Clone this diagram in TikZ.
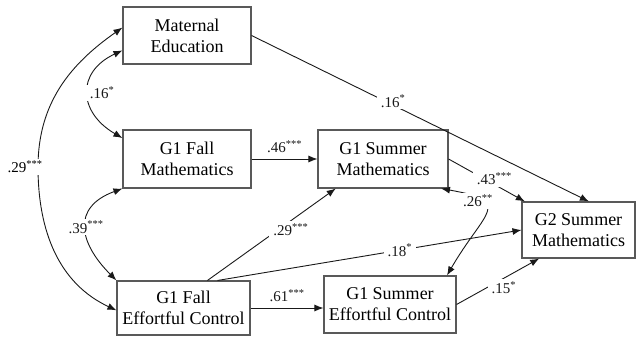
\documentclass[tikz,border=0pt]{standalone}
\usepackage{fontspec}
\setmainfont{Liberation Serif}
\usetikzlibrary{arrows.meta}

\tikzset{
	var/.style={draw=black!65, line width=1.1pt, minimum height=57pt, inner sep=0pt, align=center, font=\fontsize{18}{21}\selectfont},
	coef/.style={fill=white, inner xsep=4pt, inner ysep=2pt, font=\fontsize{15}{17}\selectfont},
	link/.style={black!90, line width=0.9pt}
}

\begin{document}
\begin{tikzpicture}[x=1pt, y=1pt, >={Latex[length=9pt,width=7pt]}]
			\useasboundingbox (0,0) rectangle (636,-337);
			\node[var, minimum width=128pt] (me) at (187,-35.5) {Maternal\\Education};
			\node[var, minimum width=128pt, minimum height=58pt] (fm) at (187,-159) {G1 Fall\\Mathematics};
			\node[var, minimum width=130pt, minimum height=58pt] (sm) at (383,-159) {G1 Summer\\Mathematics};
			\node[var, minimum width=133pt, minimum height=54pt] (fec) at (183.5,-308) {G1 Fall\\Effortful Control};
			\node[var, minimum width=132pt] (sec) at (390,-304.5) {G1 Summer\\Effortful Control};
			\node[var, minimum width=113pt, minimum height=56pt] (g2) at (578.5,-230) {G2 Summer\\Mathematics};
			
			% paths
			\draw [->] [link] (me.east) -- node [coef, pos=.42, yshift=4pt] (p1) {.16\textsuperscript{*}} (g2.70);
			\draw [->] [link] (fm.east) -- node [coef, above=4pt] (p2) {.46\textsuperscript{***}} (sm.west);
			\draw [->] [link] (sm.east) -- node [coef, pos=.6, yshift=6pt] (p3) {.43\textsuperscript{***}} (g2.152);
			\draw [->] [link] (fec.49) -- node [coef, pos=.62, xshift=4pt, yshift=-6pt] (p4) {.29\textsuperscript{***}} (sm.212);
			\draw [->] [link] (fec.39) -- node [coef, pos=.6] (p5) {.18\textsuperscript{*}} (g2.west);
			\draw [->] [link] (fec.east) -- node [coef, above=4pt] (p6) {.61\textsuperscript{***}} (fec.east -| sec.west);
			\draw [->] [link] (sec.east) -- node [coef, pos=.5, xshift=6pt, yshift=-6pt] (p7) {.15\textsuperscript{*}} (g2.216);
			
			% correlations
			\draw [<->] [link] (me.193) to[out=205, in=150, looseness=1.5] node [coef, anchor=west, xshift=-3pt] (c1) {.16\textsuperscript{*}} (fm.162);
			\draw [<->] [link] (fm.south west) to[out=200, in=135, looseness=1.5] node [coef] (c2) {.39\textsuperscript{***}} (fec.north west);
			\coordinate (bend) at (38,-167);
			\draw [<->] [link] (me.173) to[out=215, in=90] (bend) to[out=-90, in=155] (fec.182);
			\node[coef] (c3) at (25,-167) {.29\textsuperscript{***}};
			\draw [<->] [link] (sm.-27) to[out=-10, in=60, looseness=2.2] node [coef, pos=.3, xshift=-4pt] (c4) {.26\textsuperscript{**}} (sec.27);
			
		\end{tikzpicture}
\end{document}
